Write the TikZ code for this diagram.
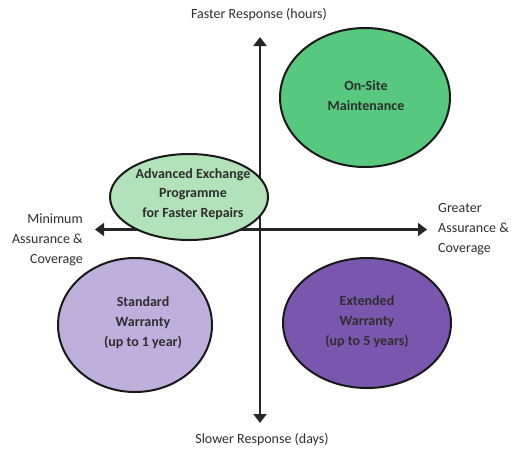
\documentclass[tikz,border=0pt]{standalone}
\usepackage{fontspec}
\setmainfont{Carlito}
\usetikzlibrary{arrows.meta,shapes.geometric}
\definecolor{txt}{HTML}{2E2E2E}
\definecolor{ongreen}{HTML}{57C97E}
\definecolor{lightgreen}{HTML}{B2E2BA}
\definecolor{lavender}{HTML}{BDB0DC}
\definecolor{purple}{HTML}{7A57AE}
\tikzset{
  blob/.style={ellipse, draw=black!90, line width=2pt, inner sep=0pt},
  axis/.style={line width=2.6pt, draw=black!85, -{Triangle[width=13pt,length=9pt]}},
  lbl/.style={font=\fontsize{14}{20}\selectfont, text=txt, inner sep=0pt},
  blbl/.style={font=\fontsize{14}{20}\selectfont\bfseries, text=txt, inner sep=0pt, align=center}
}
\begin{document}
\begin{tikzpicture}[x=1pt,y=-1pt]
\useasboundingbox (0,0) rectangle (511,451);
\coordinate (o) at (260,229.5);
\coordinate (top) at (260,37);
\coordinate (bot) at (260,423);
\coordinate (lft) at (95,229.5);
\coordinate (rgt) at (427,229.5);
\draw[axis] (o) -- (top);
\draw[axis] (o) -- (bot);
\draw[axis] (o) -- (lft);
\draw[axis] (o) -- (rgt);
\node[blob, fill=ongreen, minimum width=170pt, minimum height=139pt] (onsite) at (365,97.5) {};
\node[blbl] (onsitet) at (366,96) {On-Site\\Maintenance};
\node[blob, fill=lightgreen, minimum width=158pt, minimum height=86pt] (adv) at (189,197) {};
\node[blbl, font=\fontsize{14}{19.5}\selectfont\bfseries] (advt) at (193,194) {Advanced Exchange\\Programme\\for Faster Repairs};
\node[blob, fill=lavender, minimum width=154pt, minimum height=134pt] (std) at (135,325) {};
\node[blbl] (stdt) at (143,323) {Standard\\Warranty\\(up to 1 year)};
\node[blob, fill=purple, minimum width=168pt, minimum height=130pt] (ext) at (367,323) {};
\node[blbl] (extt) at (367,322) {Extended\\Warranty\\(up to 5 years)};
\node[lbl] (faster) at (259,15) {Faster Response (hours)};
\node[lbl] (slower) at (262,439) {Slower Response (days)};
\node[lbl, align=right, anchor=east] (minl) at (83,240) {Minimum\\Assurance \&\\Coverage};
\node[lbl, align=left, anchor=west] (grl) at (438,229) {Greater\\Assurance \&\\Coverage};
\end{tikzpicture}
\end{document}
